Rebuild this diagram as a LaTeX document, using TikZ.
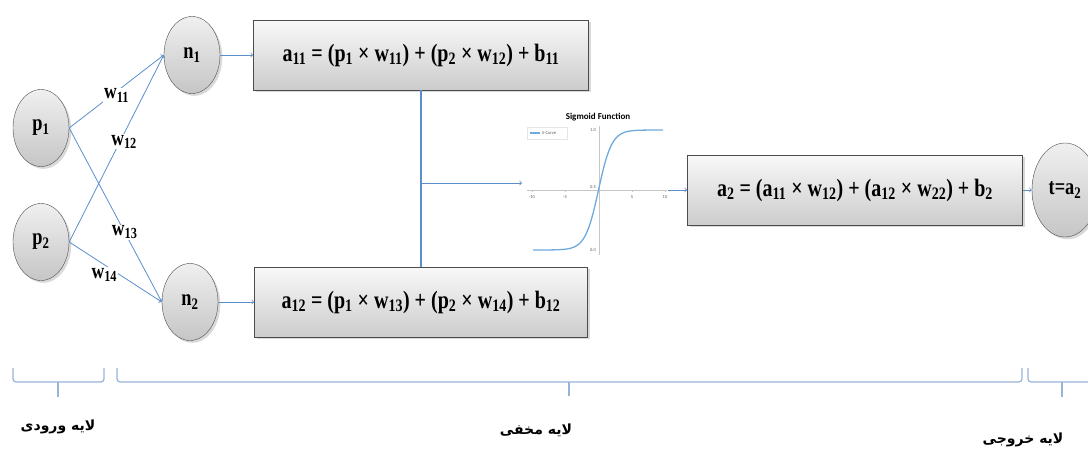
\documentclass[tikz,border=0pt]{standalone}
\usepackage{fontspec}
\setmainfont{Liberation Serif}
\newfontfamily\eqfont[FakeStretch=0.8]{Liberation Serif}
\newfontfamily\farsi[Script=Arabic]{DejaVu Sans}
\newfontfamily\plotfont{Carlito}
\TeXXeTstate=1
\usetikzlibrary{shapes.geometric,shadows}
\definecolor{lineblue}{RGB}{91,142,204}
\definecolor{plotblue}{RGB}{110,170,222}
\definecolor{bracecol}{RGB}{150,180,215}
\newcommand{\ix}[1]{\textsubscript{#1}}

\begin{document}
\begin{tikzpicture}[x=1pt, y=-1pt,
  neuron/.style={ellipse, draw=gray!60!black, top color=gray!12, bottom color=gray!45, drop shadow={opacity=0.3}, minimum width=56pt, minimum height=77pt, inner sep=0pt, font=\eqfont\bfseries\fontsize{23}{25}\selectfont},
  sumbox/.style={rectangle, draw=gray!60!black, line width=0.9pt, top color=gray!5, bottom color=gray!40, drop shadow={opacity=0.3}, minimum width=335pt, minimum height=70pt, font=\eqfont\bfseries\fontsize{25}{28}\selectfont},
  weight/.style={fill=white, inner sep=1pt, font=\eqfont\bfseries\fontsize{22}{24}\selectfont},
  layer/.style={font=\farsi\bfseries\fontsize{14}{16}\selectfont},
  arrow/.style={->, draw=lineblue, line width=0.8pt},
  link/.style={draw=lineblue, line width=1.1pt},
  brace/.style={draw=bracecol, line width=1.2pt, rounded corners=3pt},
  tick/.style={font=\plotfont\fontsize{4.5}{5}\selectfont, text=gray!70!black, inner sep=1pt}
]
\useasboundingbox (0,0) rectangle (1088,450);

\node[neuron] (p1) at (41,128) {p\ix{1}};
\node[neuron] (p2) at (41,242) {p\ix{2}};
\node[neuron] (n1) at (192,55) {n\ix{1}};
\node[neuron] (n2) at (190,302) {n\ix{2}};
\node[neuron, minimum width=66pt, minimum height=94pt] (out) at (1065,190) {t=a\ix{2}};

\node[sumbox] (a11) at (421,55) {a\ix{11} = (p\ix{1} × w\ix{11}) + (p\ix{2} × w\ix{12}) + b\ix{11}};
\node[sumbox, minimum width=333pt] (a12) at (421,302) {a\ix{12} = (p\ix{1} × w\ix{13}) + (p\ix{2} × w\ix{14}) + b\ix{12}};
\node[sumbox] (a2) at (855,190) {a\ix{2} = (a\ix{11} × w\ix{12}) + (a\ix{12} × w\ix{22}) + b\ix{2}};

\draw[arrow] (p1.east) -- node[weight, pos=.5, yshift=-4pt] {w\ix{11}} (n1.west);
\draw[arrow] (p2.east) -- node[weight, pos=.58, yshift=-8pt] {w\ix{12}} (n1.west);
\draw[arrow] (p1.east) -- node[weight, pos=.6] {w\ix{13}} (n2.west);
\draw[arrow] (p2.east) -- node[weight, pos=.38, yshift=-10pt] {w\ix{14}} (n2.west);
\draw[arrow] (n1) -- (a11);
\draw[arrow] (n2) -- (a12);

\coordinate (sigin) at (522,183);
\coordinate (sigout) at (668,190);
\draw[link] (a11.south) -- (a12.north);
\draw[arrow] (a11.south |- sigin) -- (sigin);
\draw[arrow] (sigout) -- (a2);
\draw[arrow] (a2) -- (out);

\node[font=\plotfont\bfseries\fontsize{9}{10}\selectfont] (sigtitle) at (598,117) {Sigmoid Function};
\draw[gray!45, line width=0.6pt] (527,190) -- (667,190);
\draw[gray!45, line width=0.6pt] (599,126) -- (599,255);
\foreach \v/\p in {-10/532, -5/565, 5/632, 10/665} {
  \draw[gray!45] (\p,190) -- (\p,192);
  \node[tick] at (\p,197) {\v};
}
\node[tick, anchor=east] at (597,130) {1.0};
\node[tick, anchor=east] at (597,187) {0.5};
\node[tick, anchor=east] at (597,250) {0.0};
\draw[plotblue, line width=1.3pt] (533,250) -- plot[domain=-9:9, samples=90, smooth] ({598.5+6.65*\x},{250-120/(1+exp(-\x))}) -- (663,130);
\draw[gray!20] (527,127) rectangle (567,139);
\draw[plotblue, line width=1.3pt] (530,133) -- (540,133);
\node[tick, anchor=west] at (541,133) {S-Curve};

\draw[brace] (13,368) -- (13,382) -- (104,382) -- (104,368);
\draw[brace] (58,382) -- (58,397);
\draw[brace] (117,368) -- (117,382) -- (1022,382) -- (1022,368);
\draw[brace] (569,382) -- (569,396);
\draw[brace] (1028,368) -- (1028,382) -- (1095,382);
\draw[brace] (1062,382) -- (1062,397);

\node[layer] (inlayer) at (58,427) {\beginR لایه ورودی\endR};
\node[layer] (hidlayer) at (536,430) {\beginR لایه مخفی\endR};
\node[layer] (outlayer) at (1023,440) {\beginR لایه خروجی\endR};
\end{tikzpicture}
\end{document}
